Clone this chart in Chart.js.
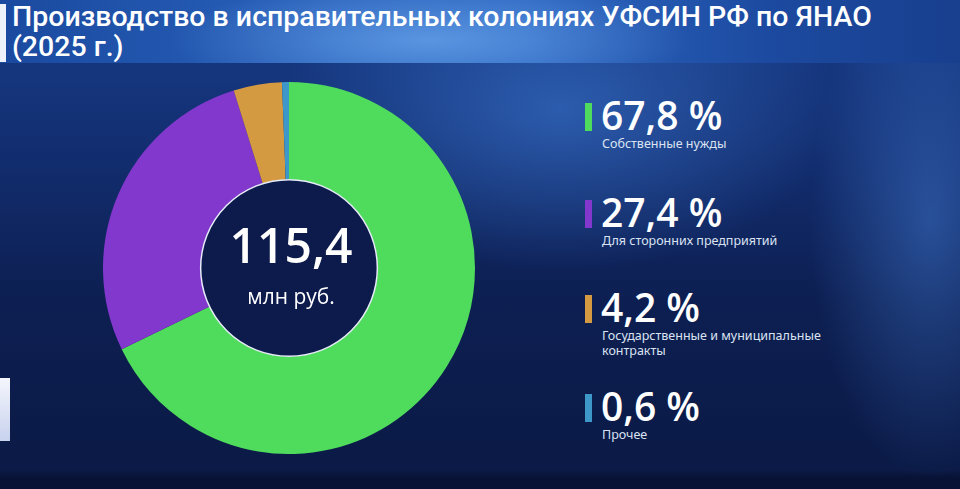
<!DOCTYPE html>
<html>
<head>
<meta charset="utf-8">
<script src="https://cdn.jsdelivr.net/npm/chart.js@4"></script>
<style>
  html, body { margin: 0; padding: 0; }
  body {
    width: 960px; height: 489px; overflow: hidden; position: relative;
    font-family: "Open Sans", sans-serif; color: #fff;
    background:
      radial-gradient(ellipse 280px 160px at 560px 110px, rgba(60,120,210,0.6), rgba(60,120,210,0) 100%),
      radial-gradient(ellipse 120px 260px at 930px 220px, rgba(70,130,220,0.45), rgba(70,130,220,0) 100%),
      linear-gradient(180deg, #173c88 0px, #132f72 140px, #0d1f52 300px, #0b1a46 470px, #081235 478px, #081235 489px);
  }
  #titleBar {
    position: absolute; left: 0; top: 0; width: 960px; height: 63px;
    background:
      radial-gradient(ellipse 260px 60px at 430px 40px, rgba(110,170,240,0.7), rgba(110,170,240,0) 100%),
      linear-gradient(90deg, #1a4aa0 0%, #2a62bb 35%, #2d66c0 55%, #1c4aa0 80%, #183f8e 100%);
  }
  #titleBar .mark { position: absolute; left: 0; top: 4px; width: 6px; height: 58px; background: #eef2fb; }
  #title {
    position: absolute; left: 12px; top: 1px; font-family: "Roboto", sans-serif; font-weight: 500;
    font-size: 26px; line-height: 28px; color: #fff; white-space: nowrap; transform-origin: 0 0;
  }
  #sideMark { position: absolute; left: 0; top: 378px; width: 10px; height: 63px; background: linear-gradient(180deg,#f4f6fc,#c8d2ee); }
  #chartBox { position: absolute; left: 103px; top: 82px; width: 372px; height: 372px; }
  .item { position: absolute; left: 585px; }
  .item .bar { position: absolute; left: 0; width: 7px; height: 28px; }
  .item .pct { position: absolute; left: 16px; top: -11px; font-size: 39px; font-weight: 600; line-height: 46px; white-space: nowrap; }
  .item .lbl { position: absolute; left: 17px; top: 33px; font-family: "Noto Sans", sans-serif; font-size: 12.5px; line-height: 15px; color: #dbe3f3; width: 260px; }
</style>
</head>
<body>
<div id="titleBar"><div class="mark"></div><div id="title"></div></div>
<div id="sideMark"></div>
<div id="chartBox"><canvas id="chart"></canvas></div>
<div id="legend"></div>
<script>
// Data
const title = ['Производство в исправительных колониях УФСИН РФ по ЯНАО', '(2025 г.)'];
const categories = ['Собственные нужды', 'Для сторонних предприятий', 'Государственные и муниципальные контракты', 'Прочее'];
const shares = [67.8, 27.4, 4.2, 0.6];
const colors = ['#4fdb5c', '#8238cc', '#d39a42', '#3d97c9'];
const totalValue = '115,4';
const totalUnit = 'млн руб.';

// Title
const titleEl = document.getElementById('title');
titleEl.innerHTML = title.join('<br>');
const tw = titleEl.scrollWidth;
titleEl.style.transform = 'scaleX(' + (860 / tw) + ') scaleY(1.08)';

// Legend
const legendEl = document.getElementById('legend');
const legendTops = [103, 200, 295, 394];
categories.forEach((c, i) => {
    const d = document.createElement('div');
    d.className = 'item';
    d.style.top = legendTops[i] + 'px';
    d.innerHTML = '<div class="bar" style="background:' + colors[i] + '"></div>' +
        '<div class="pct">' + String(shares[i]).replace('.', ',') + ' %</div>' +
        '<div class="lbl">' + c + '</div>';
    legendEl.appendChild(d);
});
// narrow the 3rd label so it wraps like the original
legendEl.children[2].querySelector('.lbl').style.width = '235px';

// Center disk + text
const centerPlugin = {
    id: 'centerDisk',
    afterDatasetsDraw(chart) {
        const arc = chart.getDatasetMeta(0).data[0];
        if (!arc) return;
        const ctx = chart.ctx;
        const x = arc.x, y = arc.y, r = arc.innerRadius;
        ctx.save();
        ctx.beginPath();
        ctx.arc(x, y, r, 0, Math.PI * 2);
        ctx.fillStyle = '#0c1a4c';
        ctx.fill();
        ctx.lineWidth = 1.5;
        ctx.strokeStyle = '#e6ecf8';
        ctx.stroke();
        ctx.fillStyle = '#ffffff';
        ctx.textAlign = 'center';
        ctx.textBaseline = 'alphabetic';
        ctx.font = '600 48px "Open Sans"';
        ctx.fillText(totalValue, x + 2, y - 5);
        ctx.font = '400 21px "Open Sans"';
        ctx.fillText(totalUnit, x + 2, y + 36);
        ctx.restore();
    }
};

new Chart(document.getElementById('chart'), {
    type: 'doughnut',
    data: {
        labels: categories,
        datasets: [{
            data: shares,
            backgroundColor: colors,
            borderWidth: 0
        }]
    },
    options: {
        responsive: true,
        maintainAspectRatio: false,
        animation: false,
        cutout: '47.5%',
        plugins: { legend: { display: false }, tooltip: { enabled: false } }
    },
    plugins: [centerPlugin]
});
</script>
</body>
</html>
